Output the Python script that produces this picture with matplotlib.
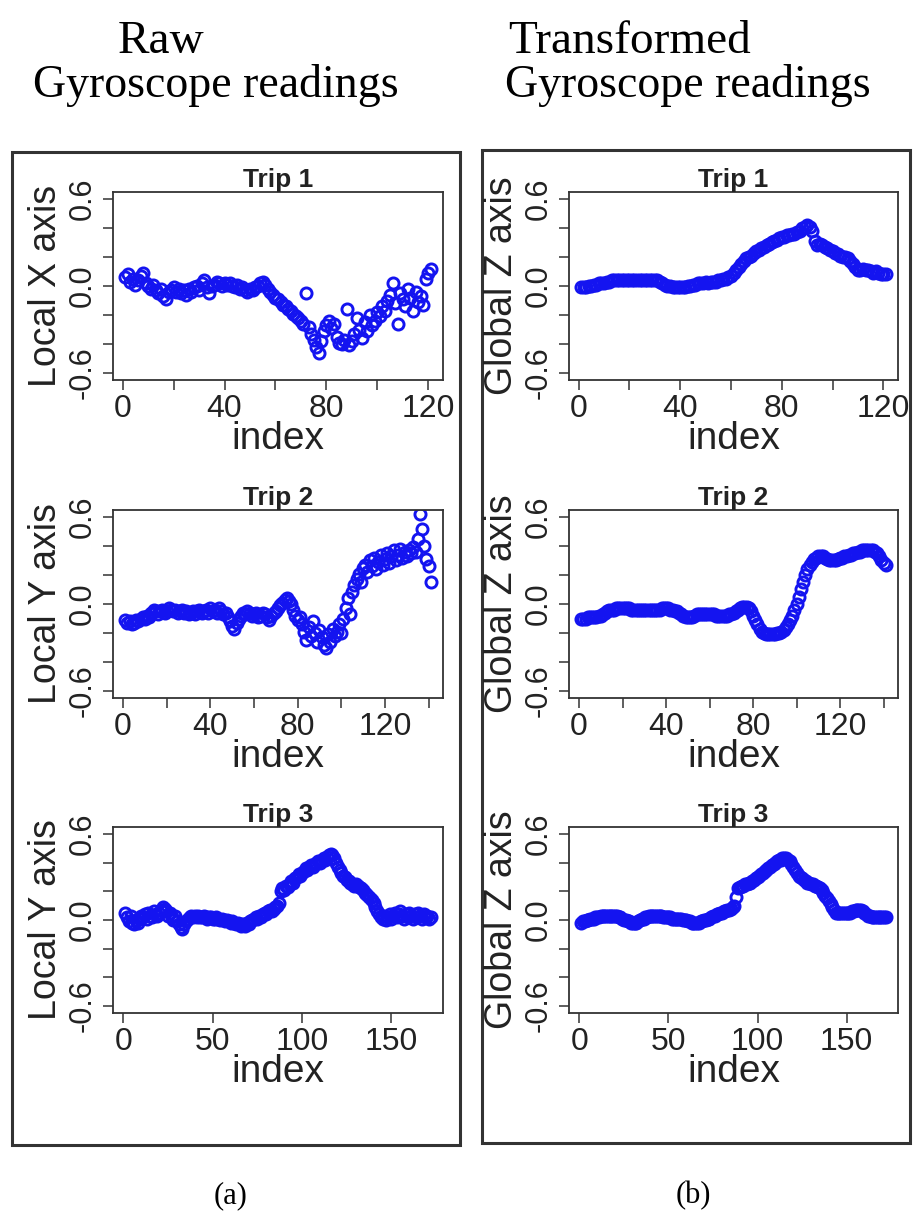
import matplotlib
matplotlib.use("Agg")
import matplotlib.pyplot as plt
import numpy as np
from matplotlib.patches import Rectangle

plt.rcParams.update({
    "font.family": ["Liberation Sans", "DejaVu Sans"],
    "axes.linewidth": 1.3, "axes.edgecolor": "#333333",
    "xtick.major.size": 7, "ytick.major.size": 7,
    "xtick.major.width": 1.1, "ytick.major.width": 1.1,
    "xtick.color": "#333333", "ytick.color": "#333333",
})

# ---- readings, index = 1..n ----
trip1_local_x = [
    0.06, 0.08, 0.03, 0.05, 0.01, 0.04, 0.07, 0.09, 0.02, 0.00,
    -0.02, 0.01, -0.03, -0.05, -0.02, -0.07, -0.09, -0.04, -0.03, -0.01,
    -0.04, -0.02, -0.05, -0.03, -0.06, -0.02, -0.04, -0.01, 0.00, -0.03,
    0.02, 0.04, -0.01, -0.05, 0.00, 0.01, 0.03, 0.02, 0.00, 0.02,
    0.01, 0.02, 0.00, -0.01, 0.01, -0.02, -0.01, -0.03, -0.04, -0.02,
    -0.03, -0.01, 0.00, 0.02, 0.03, 0.01, -0.02, -0.04, -0.06, -0.08,
    -0.09, -0.11, -0.13, -0.14, -0.16, -0.17, -0.19, -0.21, -0.22, -0.24,
    -0.26, -0.05, -0.28, -0.33, -0.37, -0.42, -0.46, -0.38, -0.31, -0.27,
    -0.24, -0.29, -0.26, -0.35, -0.39, -0.40, -0.37, -0.16, -0.41, -0.38,
    -0.33, -0.22, -0.30, -0.36, -0.25, -0.31, -0.20, -0.27, -0.24, -0.18,
    -0.21, -0.14, -0.17, -0.10, -0.06, 0.02, -0.12, -0.26, -0.05, -0.09,
    -0.14, -0.02, -0.08, -0.17, -0.04, -0.11, -0.07, -0.13, 0.05, 0.09, 0.12,
]
trip2_local_y = [
    -0.11, -0.13, -0.12, -0.14, -0.13, -0.11, -0.12, -0.10, -0.09, -0.10,
    -0.08, -0.09, -0.06, -0.04, -0.05, -0.07, -0.05, -0.04, -0.06, -0.05,
    -0.03, -0.04, -0.05, -0.04, -0.06, -0.05, -0.04, -0.06, -0.05, -0.07,
    -0.06, -0.05, -0.07, -0.05, -0.04, -0.06, -0.05, -0.04, -0.06, -0.03,
    -0.05, -0.04, -0.06, -0.03, -0.05, -0.07, -0.06, -0.09, -0.12, -0.15,
    -0.17, -0.13, -0.10, -0.08, -0.06, -0.07, -0.05, -0.06, -0.08, -0.07,
    -0.06, -0.09, -0.08, -0.06, -0.07, -0.09, -0.11, -0.08, -0.06, -0.05,
    -0.03, -0.01, 0.01, 0.03, 0.04, 0.02, 0.00, -0.04, -0.08, -0.11,
    -0.09, -0.14, -0.19, -0.25, -0.16, -0.22, -0.12, -0.20, -0.26, -0.18,
    -0.23, -0.28, -0.30, -0.21, -0.26, -0.17, -0.22, -0.19, -0.14, -0.20,
    -0.10, -0.03, 0.04, -0.07, 0.08, 0.13, 0.17, 0.21, 0.15, 0.25,
    0.27, 0.22, 0.30, 0.26, 0.32, 0.24, 0.29, 0.34, 0.27, 0.31,
    0.35, 0.28, 0.33, 0.37, 0.30, 0.34, 0.38, 0.32, 0.36, 0.33,
    0.37, 0.35, 0.39, 0.36, 0.45, 0.62, 0.52, 0.40, 0.31, 0.26, 0.15,
]
trip3_local_y = [
    0.05, 0.02, -0.01, 0.03, -0.02, -0.03, 0.00, -0.02, 0.01, 0.03,
    0.02, 0.04, 0.01, 0.05, 0.03, 0.02, 0.06, 0.04, 0.03, 0.05,
    0.07, 0.09, 0.08, 0.06, 0.03, 0.05, 0.02, 0.00, 0.03, -0.01,
    -0.03, -0.05, -0.06, -0.03, -0.01, 0.01, 0.02, 0.03, 0.02, 0.03,
    0.02, 0.03, 0.02, 0.02, 0.03, 0.02, 0.01, 0.02, 0.02, 0.01,
    0.01, 0.02, 0.01, 0.00, 0.01, 0.00, -0.01, 0.00, -0.01, -0.02,
    -0.01, -0.02, -0.03, -0.02, -0.03, -0.04, -0.03, -0.04, -0.02, -0.03,
    -0.01, 0.00, 0.01, 0.02, 0.01, 0.03, 0.02, 0.04, 0.05, 0.04,
    0.06, 0.07, 0.06, 0.08, 0.09, 0.10, 0.12, 0.20, 0.22, 0.21,
    0.24, 0.23, 0.25, 0.27, 0.26, 0.29, 0.30, 0.32, 0.31, 0.33,
    0.34, 0.36, 0.35, 0.37, 0.38, 0.37, 0.39, 0.40, 0.41, 0.40,
    0.42, 0.43, 0.42, 0.44, 0.45, 0.46, 0.45, 0.43, 0.40, 0.37,
    0.35, 0.33, 0.31, 0.30, 0.28, 0.27, 0.26, 0.25, 0.24, 0.25,
    0.24, 0.23, 0.22, 0.21, 0.19, 0.18, 0.17, 0.15, 0.14, 0.12,
    0.09, 0.06, 0.04, 0.02, 0.01, 0.03, 0.00, 0.02, 0.04, 0.01,
    0.03, 0.05, 0.02, 0.04, 0.06, 0.03, 0.01, 0.04, 0.02, 0.05,
    0.03, 0.01, 0.04, 0.02, 0.05, 0.03, 0.01, 0.04, 0.02, 0.03, 0.01, 0.02,
]
trip1_global_z = [
    -0.01, -0.01, -0.01, 0.00, 0.00, 0.01, 0.01, 0.02, 0.02, 0.02,
    0.03, 0.03, 0.04, 0.04, 0.04, 0.04, 0.04, 0.04, 0.04, 0.04,
    0.04, 0.04, 0.04, 0.04, 0.04, 0.04, 0.04, 0.04, 0.04, 0.04,
    0.04, 0.03, 0.02, 0.01, 0.00, 0.00, -0.01, -0.01, -0.01, -0.01,
    -0.01, -0.01, 0.00, 0.00, 0.01, 0.01, 0.02, 0.02, 0.02, 0.03,
    0.02, 0.03, 0.03, 0.03, 0.04, 0.04, 0.05, 0.05, 0.06, 0.07,
    0.09, 0.11, 0.13, 0.15, 0.17, 0.19, 0.20, 0.21, 0.23, 0.24,
    0.25, 0.26, 0.27, 0.28, 0.29, 0.30, 0.31, 0.32, 0.33, 0.34,
    0.34, 0.35, 0.35, 0.36, 0.36, 0.37, 0.38, 0.40, 0.41, 0.42,
    0.41, 0.38, 0.31, 0.28, 0.29, 0.28, 0.27, 0.26, 0.25, 0.24,
    0.23, 0.22, 0.21, 0.20, 0.20, 0.19, 0.17, 0.15, 0.13, 0.11,
    0.11, 0.12, 0.11, 0.11, 0.10, 0.09, 0.10, 0.09, 0.08, 0.08, 0.08,
]
trip2_global_z = [
    -0.10, -0.10, -0.10, -0.09, -0.09, -0.09, -0.09, -0.09, -0.08, -0.08,
    -0.07, -0.06, -0.05, -0.04, -0.04, -0.04, -0.03, -0.03, -0.03, -0.03,
    -0.03, -0.03, -0.03, -0.04, -0.04, -0.04, -0.04, -0.04, -0.04, -0.04,
    -0.04, -0.04, -0.04, -0.04, -0.04, -0.04, -0.04, -0.03, -0.03, -0.03,
    -0.03, -0.04, -0.04, -0.05, -0.05, -0.06, -0.07, -0.08, -0.09, -0.09,
    -0.09, -0.09, -0.08, -0.07, -0.07, -0.07, -0.07, -0.07, -0.07, -0.07,
    -0.07, -0.07, -0.08, -0.08, -0.08, -0.08, -0.08, -0.08, -0.07, -0.07,
    -0.06, -0.05, -0.04, -0.03, -0.02, -0.02, -0.02, -0.03, -0.05, -0.08,
    -0.11, -0.14, -0.17, -0.19, -0.20, -0.21, -0.21, -0.21, -0.21, -0.21,
    -0.20, -0.20, -0.19, -0.18, -0.16, -0.14, -0.11, -0.08, -0.04, 0.00,
    0.05, 0.10, 0.15, 0.20, 0.24, 0.27, 0.29, 0.31, 0.32, 0.33,
    0.33, 0.33, 0.32, 0.31, 0.30, 0.30, 0.30, 0.30, 0.31, 0.32,
    0.32, 0.33, 0.33, 0.34, 0.34, 0.35, 0.35, 0.36, 0.36, 0.37,
    0.37, 0.37, 0.37, 0.37, 0.37, 0.36, 0.35, 0.33, 0.30, 0.28, 0.27,
]
trip3_global_z = [
    -0.02, -0.01, -0.01, 0.00, 0.00, 0.01, 0.01, 0.01, 0.02, 0.02,
    0.02, 0.03, 0.03, 0.03, 0.03, 0.03, 0.03, 0.03, 0.03, 0.03,
    0.03, 0.02, 0.02, 0.01, 0.00, 0.00, -0.01, -0.01, -0.02, -0.02,
    -0.02, -0.02, -0.01, 0.00, 0.01, 0.01, 0.02, 0.02, 0.03, 0.03,
    0.03, 0.03, 0.03, 0.03, 0.03, 0.03, 0.02, 0.02, 0.02, 0.02,
    0.02, 0.01, 0.01, 0.01, 0.01, 0.01, 0.01, 0.00, 0.00, 0.00,
    -0.01, -0.01, -0.02, -0.02, -0.02, -0.02, -0.02, -0.01, -0.01, 0.00,
    0.00, 0.01, 0.01, 0.02, 0.03, 0.03, 0.04, 0.04, 0.05, 0.05,
    0.06, 0.06, 0.07, 0.07, 0.08, 0.09, 0.10, 0.16, 0.22, 0.23,
    0.24, 0.24, 0.25, 0.25, 0.26, 0.26, 0.27, 0.28, 0.29, 0.30,
    0.31, 0.32, 0.33, 0.34, 0.35, 0.36, 0.37, 0.38, 0.39, 0.40,
    0.41, 0.42, 0.42, 0.43, 0.43, 0.43, 0.42, 0.41, 0.39, 0.37,
    0.35, 0.33, 0.31, 0.30, 0.29, 0.28, 0.27, 0.26, 0.26, 0.25,
    0.25, 0.24, 0.24, 0.23, 0.22, 0.21, 0.19, 0.17, 0.15, 0.13,
    0.11, 0.09, 0.07, 0.05, 0.05, 0.05, 0.05, 0.05, 0.05, 0.05,
    0.05, 0.05, 0.06, 0.06, 0.07, 0.07, 0.07, 0.07, 0.06, 0.05,
    0.04, 0.03, 0.03, 0.02, 0.02, 0.02, 0.02, 0.02, 0.02, 0.02, 0.02, 0.02,
]

trip_titles = ["Trip 1", "Trip 2", "Trip 3"]
raw_ylabels = ["Local X axis", "Local Y axis", "Local Y axis"]
z_ylabels = ["Global Z axis", "Global Z axis", "Global Z axis"]
x_ticks = [[0, 20, 40, 60, 80, 100, 120],
           [0, 20, 40, 60, 80, 100, 120, 140],
           [0, 50, 100, 150]]
x_ticklabels = [["0", "", "40", "", "80", "", "120"],
                ["0", "", "40", "", "80", "", "120", ""],
                ["0", "50", "100", "150"]]
y_ticks = [-0.6, -0.4, -0.2, 0.0, 0.2, 0.4, 0.6]
y_ticklabels = ["-0.6", "", "", "0.0", "", "", "0.6"]

W, H = 913, 1226
fig = plt.figure(figsize=(W / 100, H / 100), dpi=100)


def px_axes(x0, x1, y0, y1):
    return fig.add_axes([x0 / W, 1 - y1 / H, (x1 - x0) / W, (y1 - y0) / H])


def draw_trip(ax, vals, ylab, title, xt, xtl):
    n = len(vals)
    idx = np.arange(1, n + 1)
    ax.plot(idx, vals, "o", mfc="none", mec="#1414f0", ms=8.0, mew=2.1)
    ext = 0.04 * (n - 1)
    ax.set_xlim(1 - ext, n + ext)
    ax.set_ylim(-0.648, 0.648)
    ax.set_xticks(xt)
    ax.set_xticklabels(xtl, fontsize=23, color="#222222")
    ax.set_yticks(y_ticks)
    ax.set_yticklabels(y_ticklabels, fontsize=22, rotation=90, va="center", color="#222222")
    ax.tick_params(axis="x", pad=3)
    ax.tick_params(axis="y", pad=4)
    ax.set_xlabel("index", fontsize=28, color="#222222")
    ax.xaxis.set_label_coords(0.5, -0.22)
    ax.set_ylabel(ylab, fontsize=27, color="#222222")
    ax.yaxis.set_label_coords(-0.15, 0.5)
    ax.set_title(title, fontsize=19, fontweight="bold", pad=3, color="#222222")


rows_px = [(192, 380), (510, 698), (827, 1013)]
series_raw = [trip1_local_x, trip2_local_y, trip3_local_y]
series_z = [trip1_global_z, trip2_global_z, trip3_global_z]

for k, (y0, y1) in enumerate(rows_px):
    axl = px_axes(113, 443, y0, y1)
    draw_trip(axl, series_raw[k], raw_ylabels[k], trip_titles[k], x_ticks[k], x_ticklabels[k])
    axr = px_axes(569, 898, y0, y1)
    draw_trip(axr, series_z[k], z_ylabels[k], trip_titles[k], x_ticks[k], x_ticklabels[k])

# outer frames around each column
for (x0, x1, y0, y1) in [(12, 460, 152, 1145), (482, 910, 150, 1143)]:
    fig.add_artist(Rectangle((x0 / W, 1 - y1 / H), (x1 - x0) / W, (y1 - y0) / H,
                             transform=fig.transFigure, fill=False,
                             edgecolor="#333333", lw=2.2, zorder=0))

serif = ["Liberation Serif", "DejaVu Serif"]
fig.text(118 / W, 1 - 53 / H, "Raw", family=serif, fontsize=34, ha="left", va="baseline")
fig.text(33 / W, 1 - 97 / H, "Gyroscope readings", family=serif, fontsize=33, ha="left", va="baseline")
fig.text(508 / W, 1 - 53 / H, "Transformed", family=serif, fontsize=34, ha="left", va="baseline")
fig.text(505 / W, 1 - 97 / H, "Gyroscope readings", family=serif, fontsize=33, ha="left", va="baseline")
fig.text(231 / W, 1 - 1196 / H, "(a)", family=serif, fontsize=22, ha="center", va="center")
fig.text(693 / W, 1 - 1196 / H, "(b)", family=serif, fontsize=22, ha="center", va="center")

fig.savefig("out.png", dpi=100)
